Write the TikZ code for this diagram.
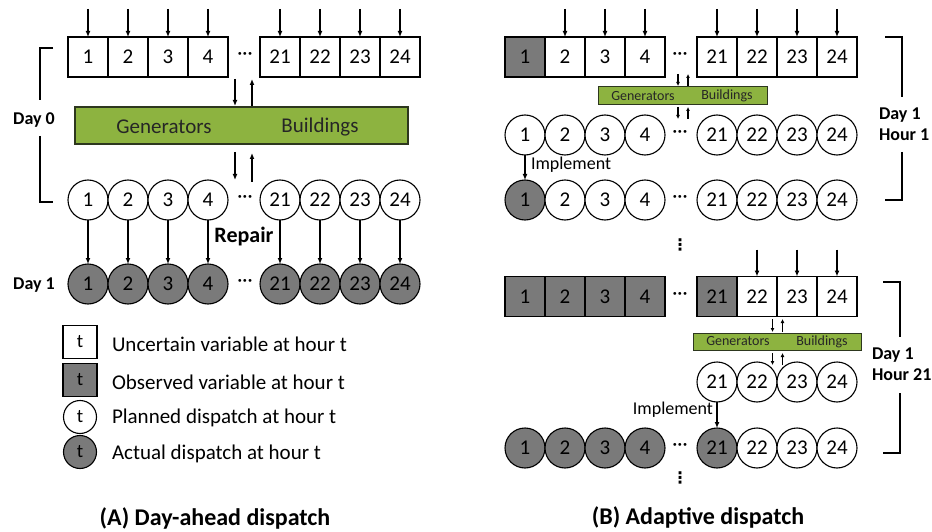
\documentclass[tikz,border=0pt]{standalone}
\usepackage{fontspec}
\setmainfont{Carlito}
\newfontfamily\dotsfont{DejaVu Sans}
\usetikzlibrary{arrows.meta}
\definecolor{obsgray}{RGB}{122,122,122}
\definecolor{modelgreen}{RGB}{141,179,64}
\definecolor{modeledge}{RGB}{45,55,30}
\tikzset{
  every node/.style={inner sep=0pt, outer sep=0pt},
  digitfont/.style={font=\fontsize{21}{21}\selectfont},
  hourbox/.style={draw, line width=1.1pt, minimum width=40pt, minimum height=40pt, fill=white, digitfont},
  obsbox/.style={hourbox, fill=obsgray},
  plancirc/.style={circle, draw, line width=1.1pt, minimum size=40pt, fill=white, digitfont},
  actcirc/.style={plancirc, fill=obsgray},
  bigbar/.style={draw=modeledge, line width=1.3pt, fill=modelgreen},
  bartext/.style={font=\fontsize{21}{21}\selectfont, text=black!85},
  smalltext/.style={font=\fontsize{14}{14}\selectfont, text=black!85},
  arr/.style={-{Latex[length=6pt,width=5pt]}, line width=1.2pt},
  tinyarr/.style={-{Latex[length=4pt,width=4pt]}, line width=1.1pt},
  bracketline/.style={line width=1.8pt},
  boldlabel/.style={font=\bfseries\fontsize{18}{21}\selectfont},
  legendtext/.style={anchor=west, font=\fontsize{21}{21}\selectfont},
  caption/.style={font=\bfseries\fontsize{24}{24}\selectfont},
  hdots/.style={font=\fontsize{20}{20}\selectfont},
  vdotsnode/.style={font=\dotsfont\bfseries\fontsize{16}{16}\selectfont},
}
\begin{document}
\begin{tikzpicture}[x=1pt, y=-1pt]
\path[use as bounding box] (0,0) rectangle (932,532);

% ---------------- (A) Day-ahead dispatch ----------------
\foreach \t/\x in {1/88,2/128,3/168,4/208,21/280,22/320,23/360,24/400} {
  \node[hourbox] (Au\t) at (\x,57) {\t};
  \draw[arr] ([yshift=28pt]Au\t.north) -- (Au\t.north);
  \node[plancirc] (Ap\t) at (\x,200) {\t};
  \node[actcirc] (Aa\t) at (\x,284) {\t};
  \draw[arr] (Ap\t.south) -- (Aa\t.north);
}
\node[hdots] (Adu) at (245,56) {···};
\node[hdots] (Adp) at (245,199) {···};
\node[hdots] (Ada) at (245,283) {···};

\node[bigbar, minimum width=333pt, minimum height=37pt] (Abar) at (241.5,125.5) {};
\node[bartext] (Agen) at (164,127) {Generators};
\node[bartext] (Abld) at (320,127) {Buildings};

\draw[arr] ([xshift=-6.5pt,yshift=28pt]Abar.north) -- ([xshift=-6.5pt,yshift=1pt]Abar.north);
\draw[arr] ([xshift=10.5pt,yshift=1pt]Abar.north) -- ([xshift=10.5pt,yshift=28pt]Abar.north);
\draw[arr] ([xshift=-6.5pt,yshift=-8pt]Abar.south) -- ([xshift=-6.5pt,yshift=-36pt]Abar.south);
\draw[arr] ([xshift=10.5pt,yshift=-38pt]Abar.south) -- ([xshift=10.5pt,yshift=-9pt]Abar.south);

\node[boldlabel] (Aday0) at (34,120) {Day 0};
\draw[bracketline] (53,48) -- (40,48) -- (40,100);
\draw[bracketline] (40,136) -- (40,202) -- (53,202);
\node[boldlabel] (Aday1) at (34,285) {Day 1};
\node[font=\bfseries\fontsize{22}{22}\selectfont] (Arepair) at (244,237) {Repair};

% legend
\node[hourbox, minimum width=34pt, minimum height=33pt, font=\fontsize{19}{19}\selectfont] (Lunc) at (80,342) {t};
\node[obsbox, minimum width=34pt, minimum height=33pt, font=\fontsize{19}{19}\selectfont] (Lobs) at (80,380) {t};
\node[plancirc, minimum size=33pt, font=\fontsize{19}{19}\selectfont] (Lpla) at (80,417) {t};
\node[actcirc, minimum size=33pt, font=\fontsize{19}{19}\selectfont] (Lact) at (80,452) {t};
\node[legendtext] (Tunc) at (112,344) {Uncertain variable at hour t};
\node[legendtext] (Tobs) at (112,382) {Observed variable at hour t};
\node[legendtext] (Tpla) at (112,418) {Planned dispatch at hour t};
\node[legendtext] (Tact) at (112,454) {Actual dispatch at hour t};

\node[caption] (capA) at (215,518) {(A) Day-ahead dispatch};

% ---------------- (B) Adaptive dispatch: hour 1 ----------------
\node[obsbox] (Bu1) at (525,57) {1};
\foreach \t/\x in {2/565,3/605,4/645,21/717,22/757,23/797,24/837} {
  \node[hourbox] (Bu\t) at (\x,57) {\t};
  \draw[arr] ([yshift=28pt]Bu\t.north) -- (Bu\t.north);
}
\foreach \t/\x in {1/525,2/565,3/605,4/645,21/717,22/757,23/797,24/837} {
  \node[plancirc] (Bp\t) at (\x,135) {\t};
}
\node[actcirc] (Ba1) at (525,200) {1};
\foreach \t/\x in {2/565,3/605,4/645,21/717,22/757,23/797,24/837} {
  \node[plancirc] (Ba\t) at (\x,200) {\t};
}
\node[hdots] (Bdu) at (680,56) {···};
\node[hdots] (Bdp) at (680,134) {···};
\node[hdots] (Bda) at (680,199) {···};

\node[bigbar, line width=1pt, minimum width=169pt, minimum height=18pt] (Bbar) at (682.5,96) {};
\node[smalltext] (Bgen) at (643,96) {Generators};
\node[smalltext] (Bbld) at (727,96) {Buildings};
\draw[tinyarr] ([xshift=-4.5pt,yshift=13pt]Bbar.north) -- ([xshift=-4.5pt,yshift=1pt]Bbar.north);
\draw[tinyarr] ([xshift=5.5pt,yshift=1pt]Bbar.north) -- ([xshift=5.5pt,yshift=13pt]Bbar.north);
\draw[tinyarr] ([xshift=-4.5pt,yshift=-2pt]Bbar.south) -- ([xshift=-4.5pt,yshift=-14pt]Bbar.south);
\draw[tinyarr] ([xshift=5.5pt,yshift=-14pt]Bbar.south) -- ([xshift=5.5pt,yshift=-2pt]Bbar.south);

\draw[arr] (Bp1.south) -- (Ba1.north);
\node[anchor=west, font=\fontsize{18}{18}\selectfont] (Bimp1) at (531,165) {Implement};

\draw[bracketline] (885,37) -- (902,37) -- (902,97);
\draw[bracketline] (902,152) -- (902,200) -- (885,200);
\node[boldlabel, anchor=west] (Bday1a) at (879,115) {Day 1};
\node[boldlabel, anchor=west] (Bhour1) at (879,135) {Hour 1};

\node[vdotsnode] (Bvd1) at (680,245) {⋮};

% ---------------- (B) Adaptive dispatch: hour 21 ----------------
\foreach \t/\x in {1/525,2/565,3/605,4/645,21/717} {
  \node[obsbox] (Cu\t) at (\x,296.5) {\t};
}
\foreach \t/\x in {22/757,23/797,24/837} {
  \node[hourbox] (Cu\t) at (\x,296.5) {\t};
  \draw[arr] ([yshift=27pt]Cu\t.north) -- (Cu\t.north);
}
\node[hdots] (Cdu) at (680,296) {···};

\node[bigbar, line width=1pt, minimum width=168pt, minimum height=17pt] (Cbar) at (777,341.5) {};
\node[smalltext] (Cgen) at (738,341.5) {Generators};
\node[smalltext] (Cbld) at (822,341.5) {Buildings};
\draw[tinyarr] ([xshift=-4.5pt,yshift=14pt]Cbar.north) -- ([xshift=-4.5pt,yshift=1pt]Cbar.north);
\draw[tinyarr] ([xshift=5.5pt,yshift=1pt]Cbar.north) -- ([xshift=5.5pt,yshift=14pt]Cbar.north);

\foreach \t/\x in {21/717,22/757,23/797,24/837} {
  \node[plancirc] (Cp\t) at (\x,382) {\t};
}
\draw[tinyarr] ([xshift=-4.5pt,yshift=-3pt]Cbar.south) -- ([xshift=-4.5pt,yshift=-15pt]Cbar.south);
\draw[tinyarr] ([xshift=5.5pt,yshift=-15pt]Cbar.south) -- ([xshift=5.5pt,yshift=-3pt]Cbar.south);

\foreach \t/\x in {1/525,2/565,3/605,4/645,21/717} {
  \node[actcirc] (Ca\t) at (\x,448) {\t};
}
\foreach \t/\x in {22/757,23/797,24/837} {
  \node[plancirc] (Ca\t) at (\x,448) {\t};
}
\node[hdots] (Cda) at (680,447) {···};

\draw[arr] (Cp21.south) -- (Ca21.north);
\node[anchor=east, font=\fontsize{18}{18}\selectfont] (Cimp21) at (713,410) {Implement};

\draw[bracketline] (883,282) -- (900,282) -- (900,337);
\draw[bracketline] (900,393) -- (900,453) -- (883,453);
\node[boldlabel, anchor=west] (Cday1) at (872,355) {Day 1};
\node[boldlabel, anchor=west] (Chour21) at (872,375) {Hour 21};

\node[vdotsnode] (Cvd) at (680,478) {⋮};

\node[caption] (capB) at (698,517) {(B) Adaptive dispatch};
\end{tikzpicture}
\end{document}
